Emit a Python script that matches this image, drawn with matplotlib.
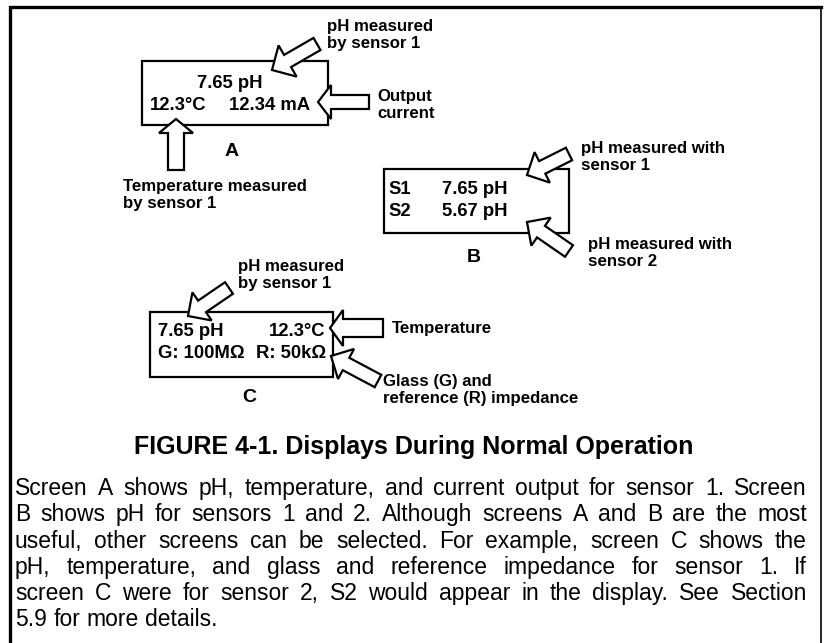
import matplotlib
matplotlib.use("Agg")
import matplotlib.pyplot as plt
from matplotlib.patches import Rectangle, Polygon
import numpy as np

# screen contents
screen_names = ['A', 'B', 'C']
screen_a_lines = ['7.65 pH', '12.3°C', '12.34 mA']
screen_b_rows = [('S1', '7.65 pH'), ('S2', '5.67 pH')]
screen_c_rows = [('7.65 pH', '12.3°C'), ('G: 100MΩ', 'R: 50kΩ')]

# callout labels
label_a_ph = 'pH measured\nby sensor 1'
label_a_out = 'Output\ncurrent'
label_a_temp = 'Temperature measured\nby sensor 1'
label_b_s1 = 'pH measured with\nsensor 1'
label_b_s2 = 'pH measured with\nsensor 2'
label_c_ph = 'pH measured\nby sensor 1'
label_c_temp = 'Temperature'
label_c_imp = 'Glass (G) and\nreference (R) impedance'

title = 'FIGURE 4-1. Displays During Normal Operation'
paragraph = [
    'Screen A shows pH, temperature, and current output for sensor 1. Screen',
    'B shows pH for sensors 1 and 2. Although screens A and B are the most',
    'useful, other screens can be selected. For example, screen C shows the',
    'pH, temperature, and glass and reference impedance for sensor 1. If',
    'screen C were for sensor 2, S2 would appear in the display.  See Section',
    '5.9 for more details.',
]

plt.rcParams['font.family'] = ['Liberation Sans', 'DejaVu Sans']

W, H = 824, 643
fig = plt.figure(figsize=(W / 100, H / 100), dpi=100)
ax = fig.add_axes([0, 0, 1, 1])
ax.set_xlim(0, W)
ax.set_ylim(H, 0)
ax.axis('off')


def block_arrow(tail, tip, w=7, hw=16, hl=15):
    tail = np.array(tail, float)
    tip = np.array(tip, float)
    d = (tip - tail) / np.linalg.norm(tip - tail)
    n = np.array([-d[1], d[0]])
    base = tip - d * hl
    pts = [tail + n * w, base + n * w, base + n * hw, tip,
           base - n * hw, base - n * w, tail - n * w]
    ax.add_patch(Polygon(pts, closed=True, facecolor='white',
                         edgecolor='black', lw=1.6, joinstyle='miter', zorder=3))


def box(x0, y0, x1, y1):
    ax.add_patch(Rectangle((x0, y0), x1 - x0, y1 - y0, facecolor='none',
                           edgecolor='black', lw=1.6, zorder=2))


def label(x, y, s, size=12.1, ha='left'):
    ax.text(x, y, s, fontsize=size, fontweight='bold', ha=ha, va='center',
            linespacing=1.12, zorder=4)


def screen_text(x, y, s, ha='left', size=13.3):
    ax.text(x, y, s, fontsize=size, fontweight='bold', ha=ha, va='center', zorder=4)


# outer frame (open at the bottom)
ax.plot([10, 10, 821], [H + 5, 7, 7], color='black', lw=2.4,
        solid_joinstyle='miter', clip_on=False)
ax.plot([821, 821], [7, H + 5], color='black', lw=1.2, clip_on=False)

# screen A
box(142, 61, 328, 125)
screen_text(230, 83, screen_a_lines[0], ha='center')
screen_text(150, 105, screen_a_lines[1])
screen_text(229, 105, screen_a_lines[2])
screen_text(225, 152, screen_names[0], size=14)
block_arrow((317, 44), (272, 70), w=7, hw=18, hl=18)
block_arrow((369, 102), (318, 102), w=7, hw=17, hl=13)
block_arrow((176, 170), (176, 119), w=8, hw=17, hl=14)
label(327, 35, label_a_ph)
label(377, 105, label_a_out)
label(123, 195, label_a_temp)

# screen B
box(384, 169, 569, 233)
for (s, v), y in zip(screen_b_rows, [190, 211]):
    screen_text(388, y, s)
    screen_text(442, y, v)
screen_text(467, 258, screen_names[1], size=14)
block_arrow((569, 154), (527, 175), w=7, hw=17, hl=17)
block_arrow((569, 251), (527, 222), w=7, hw=17, hl=17)
label(581, 157, label_b_s1)
label(588, 253, label_b_s2)

# screen C
box(150, 312, 333, 377)
for (l, r), y in zip(screen_c_rows, [331, 354]):
    screen_text(158, y, l)
    screen_text(326, y, r, ha='right')
screen_text(242, 398, screen_names[2], size=14)
block_arrow((229, 288), (188, 316), w=7, hw=17, hl=17)
block_arrow((383, 328), (330, 328), w=9, hw=18, hl=13)
block_arrow((378, 381), (331, 356), w=7, hw=17, hl=17)
label(238, 275, label_c_ph)
label(392, 328, label_c_temp)
label(383, 390, label_c_imp)

# caption title
ax.text(W / 2 + 2, 447, title, fontsize=18, fontweight='bold', ha='center',
        va='center')

# justified paragraph
renderer = fig.canvas.get_renderer()
left, right = 15, 807
psize = 16.5
probe1 = ax.text(0, 0, 'a a', fontsize=psize)
probe2 = ax.text(0, 0, 'aa', fontsize=psize)
space_w = probe1.get_window_extent(renderer).width - probe2.get_window_extent(renderer).width
probe1.remove()
probe2.remove()
for i, line in enumerate(paragraph):
    y = 495 + 26.3 * i
    words = line.split()
    objs = [ax.text(0, y, wd, fontsize=psize, ha='left', va='baseline') for wd in words]
    widths = [o.get_window_extent(renderer).width for o in objs]
    if i == len(paragraph) - 1:
        space = space_w
    else:
        space = (right - left - sum(widths)) / (len(words) - 1)
    x = left
    for o, wdt in zip(objs, widths):
        o.set_x(x)
        x += wdt + space

fig.savefig('out.png', dpi=100)
